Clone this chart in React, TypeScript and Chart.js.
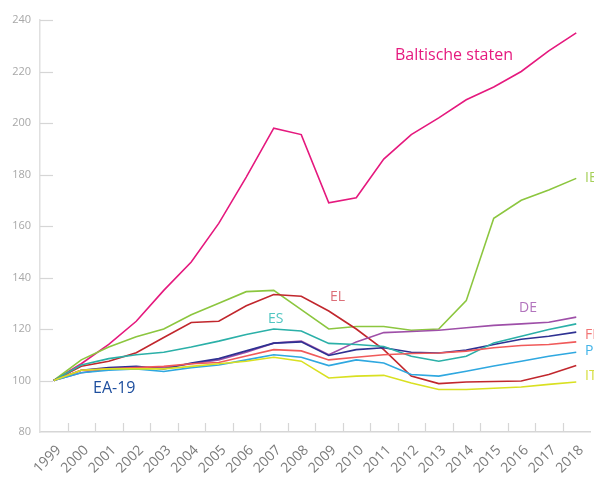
import React, { useEffect, useRef } from "react";
import { Chart, registerables } from "chart.js";

Chart.register(...registerables);

const years = ["1999","2000","2001","2002","2003","2004","2005","2006","2007","2008","2009","2010","2011","2012","2013","2014","2015","2016","2017","2018"];
const yTicks = [80, 100, 120, 140, 160, 180, 200, 220, 240];

const baltic = [100,106.5,114,123,135,146,161,179,198,195.5,169,171,186,195.5,202,209,214,220,228,235];
const ie = [100,108,113,117,120,125.5,130,134.5,135,127.5,120,121,121,119.5,120,131,163,170,174,178.5];
const el = [100,105.5,107.5,110.8,116.7,122.5,123,129,133.4,132.7,127,120,112,101.7,98.8,99.4,99.6,99.8,102.3,105.8];
const de = [100,103,104.5,105,105,106.5,108,111,114.5,115.3,110,115,118.6,119,119.5,120.5,121.4,122,122.6,124.6];
const es = [100,106,108.5,110,111,113,115.3,117.9,120,119.2,114.4,114,113.2,109.4,107.5,109.4,114.6,117.2,119.8,122];
const ea19 = [100,104,105,105.5,104.5,106.8,108.5,111.5,114.5,115,109.7,112,112.7,111,110.7,111.8,114,116,117.2,118.8];
const fi = [100,104,104.5,105,105.5,106.5,107,109.5,112,111.5,108,109,110,110.5,110.7,111.4,112.7,113.6,114,115];
const pt = [100,103,104,104.5,103.5,105,106,108,110,109,105.8,108,106.8,102.3,101.7,103.6,105.6,107.5,109.4,111];
const it = [100,104,104.5,104.5,104.5,105.5,106.5,107.5,109,107.5,101,101.7,102,99,96.5,96.5,97,97.5,98.5,99.4];

const seriesNames = ["IT", "P", "FI", "ES", "EA-19", "DE", "EL", "IE", "Baltische staten"];
const seriesData = [it, pt, fi, es, ea19, de, el, ie, baltic];
const seriesColors = ["#d9e021", "#2fa8e0", "#f05a5a", "#2bb0a8", "#2e3192", "#9e4fa8", "#c1272d", "#8cc63f", "#e5197e"];

const annotations = [
  { text: "Baltische staten", x: 395, y: 55, color: "#e5197e", size: 16 },
  { text: "EA-19", x: 93, y: 388, color: "#1d4e9e", size: 16 },
  { text: "EL", x: 330, y: 297, color: "#dc6f78", size: 14 },
  { text: "ES", x: 268, y: 319, color: "#52c6c2", size: 14 },
  { text: "DE", x: 519, y: 308, color: "#b274bd", size: 14 },
  { text: "IE", x: 585, y: 178, color: "#a6d05a", size: 14 },
  { text: "FI", x: 585, y: 335, color: "#f27474", size: 14 },
  { text: "P", x: 585, y: 351, color: "#42b4e8", size: 14 },
  { text: "IT", x: 585, y: 376, color: "#d6de3e", size: 14 },
];

const axisPlugin = {
  id: "axisDecor",
  afterDatasetsDraw(chart: any) {
    const ctx = chart.ctx;
    const x = chart.scales.x;
    const y = chart.scales.y;
    const area = chart.chartArea;
    ctx.save();
    ctx.strokeStyle = "#d6d6d6";
    ctx.lineWidth = 1.2;
    yTicks.forEach((v) => {
      if (v === 80) return;
      const py = Math.round(y.getPixelForValue(v)) + 0.5;
      ctx.beginPath();
      ctx.moveTo(area.left, py);
      ctx.lineTo(area.left + 13, py);
      ctx.stroke();
    });
    for (let i = 0; i < years.length - 1; i++) {
      const px = Math.round((x.getPixelForValue(i) + x.getPixelForValue(i + 1)) / 2) + 0.5;
      ctx.beginPath();
      ctx.moveTo(px, area.bottom);
      ctx.lineTo(px, area.bottom - 9);
      ctx.stroke();
    }
    ctx.textBaseline = "middle";
    ctx.textAlign = "left";
    annotations.forEach((a) => {
      ctx.fillStyle = a.color;
      ctx.font = `${a.size}px "Open Sans", sans-serif`;
      ctx.fillText(a.text, a.x, a.y);
    });
    ctx.restore();
  },
};

export default function App() {
  const ref = useRef<HTMLCanvasElement | null>(null);
  useEffect(() => {
    document.body.style.margin = "0";
    if (!ref.current) return;
    const chart = new Chart(ref.current, {
      type: "line",
      data: {
        labels: years,
        datasets: seriesNames.map((n, i) => ({
          label: n,
          data: seriesData[i],
          borderColor: seriesColors[i],
          backgroundColor: seriesColors[i],
          borderWidth: 1.6,
          pointRadius: 0,
          tension: 0,
          fill: false,
        })),
      },
      options: {
        responsive: false,
        animation: false,
        devicePixelRatio: 1,
        layout: { padding: { top: 20, right: 4, left: 0, bottom: 0 } },
        plugins: { legend: { display: false }, tooltip: { enabled: false } },
        scales: {
          x: {
            offset: true,
            grid: { display: false, drawTicks: false },
            border: { display: true, color: "#d6d6d6", width: 1.5 },
            ticks: {
              minRotation: 45,
              maxRotation: 45,
              autoSkip: false,
              padding: 10,
              labelOffset: 5,
              color: "#7a7a7a",
              font: { family: "Open Sans", size: 14 },
            },
            afterFit: (s: any) => { s.height = 45; s.paddingLeft = 0; s.paddingRight = 0; },
          },
          y: {
            min: 80,
            max: 240,
            afterBuildTicks: (s: any) => { s.ticks = yTicks.map((v) => ({ value: v })); },
            grid: { display: false, drawTicks: false },
            border: { display: true, color: "#e0e0e0", width: 1.5 },
            ticks: {
              padding: 9,
              color: "#a8a8a8",
              font: { family: "Open Sans", size: 11 },
            },
            afterFit: (s: any) => { s.width = 40; },
          },
        },
      },
      plugins: [axisPlugin],
    });
    return () => chart.destroy();
  }, []);
  return (
    <div style={{ width: 594, height: 477 }}>
      <canvas ref={ref} width={594} height={477} style={{ width: 594, height: 477, display: "block" }} />
    </div>
  );
}
